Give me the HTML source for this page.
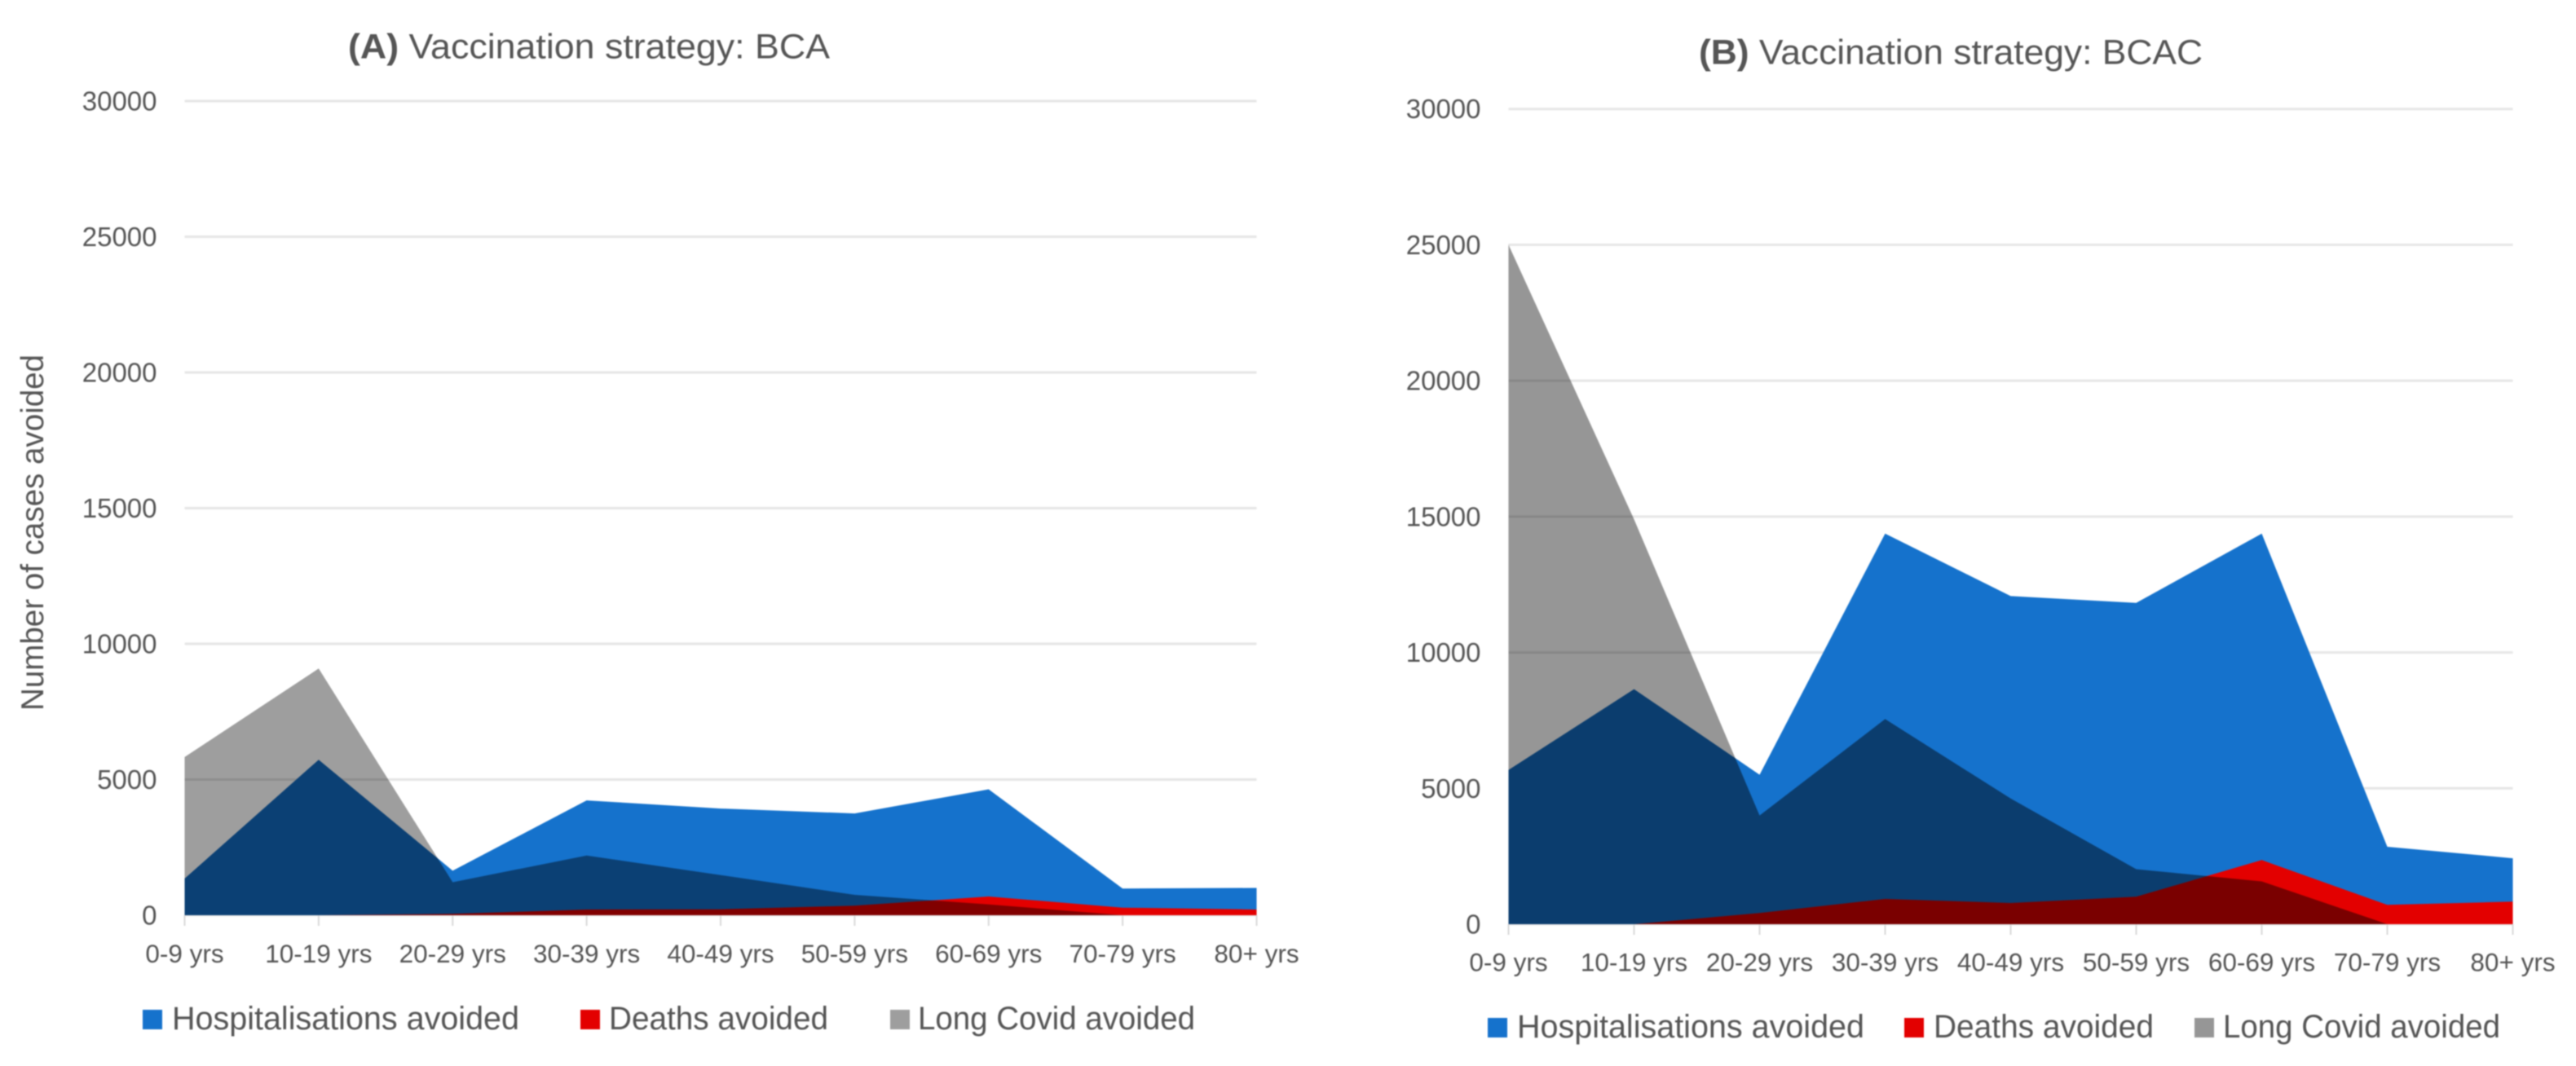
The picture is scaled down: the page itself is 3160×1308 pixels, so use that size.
<!DOCTYPE html>
<html lang="en">
<head>
<meta charset="utf-8">
<title>Cases avoided by vaccination strategy</title>
<style>
  html, body { margin: 0; padding: 0; background: #fff; }
  svg { display: block; filter: blur(0.9px); }
  text { font-family: "Liberation Sans", sans-serif; fill: #555; }
</style>
</head>
<body>
<svg id="figure" xmlns="http://www.w3.org/2000/svg" width="3160" height="1308" viewBox="0 0 3160 1308">
  <rect width="3160" height="1308" fill="#fff"/>

  <g id="panel-a"></g>
  <g id="panel-b"></g>

  <text x="427" y="71.5" font-size="43" textLength="591" lengthAdjust="spacingAndGlyphs"><tspan font-weight="bold">(A)</tspan> Vaccination strategy: BCA</text>
  <text x="2084" y="78.5" font-size="43" textLength="618" lengthAdjust="spacingAndGlyphs"><tspan font-weight="bold">(B)</tspan> Vaccination strategy: BCAC</text>

  <text transform="translate(53,872) rotate(-90)" font-size="39" textLength="437" lengthAdjust="spacingAndGlyphs">Number of cases avoided</text>

  <g>
    <rect x="175" y="1239" width="24" height="24" fill="#1572cc"/>
    <text x="211" y="1263" font-size="40" textLength="426" lengthAdjust="spacingAndGlyphs">Hospitalisations avoided</text>
    <rect x="712" y="1239" width="24" height="24" fill="#e30000"/>
    <text x="747" y="1263" font-size="40" textLength="269" lengthAdjust="spacingAndGlyphs">Deaths avoided</text>
    <rect x="1092" y="1239" width="24" height="24" fill="#9e9e9e"/>
    <text x="1126" y="1263" font-size="40" textLength="340" lengthAdjust="spacingAndGlyphs">Long Covid avoided</text>
  </g>

  <g>
    <rect x="1825" y="1249" width="24" height="24" fill="#1572cc"/>
    <text x="1861" y="1273" font-size="40" textLength="426" lengthAdjust="spacingAndGlyphs">Hospitalisations avoided</text>
    <rect x="2336" y="1249" width="24" height="24" fill="#e30000"/>
    <text x="2372" y="1273" font-size="40" textLength="270" lengthAdjust="spacingAndGlyphs">Deaths avoided</text>
    <rect x="2692" y="1249" width="24" height="24" fill="#969696"/>
    <text x="2727" y="1273" font-size="40" textLength="340" lengthAdjust="spacingAndGlyphs">Long Covid avoided</text>
  </g>
</svg>

<script>
const categories = ['0-9 yrs', '10-19 yrs', '20-29 yrs', '30-39 yrs', '40-49 yrs', '50-59 yrs', '60-69 yrs', '70-79 yrs', '80+ yrs'];
const yTicks = [0, 5000, 10000, 15000, 20000, 25000, 30000];

const hospitalisationsA = [1350, 5730, 1640, 4230, 3930, 3750, 4640, 985, 1005];
const deathsA = [0, 0, 50, 210, 220, 350, 690, 280, 210];
const longCovidA = [5830, 9090, 1215, 2200, 1480, 750, 400, 0, 0];

const hospitalisationsB = [5675, 8650, 5500, 14375, 12075, 11825, 14375, 2850, 2425];
const deathsB = [0, 0, 410, 930, 780, 1010, 2360, 710, 830];
const longCovidB = [25000, 14900, 4000, 7550, 4625, 2025, 1575, 0, 0];

const SVG_NS = 'http://www.w3.org/2000/svg';

function svgEl(tag, attrs) {
  const el = document.createElementNS(SVG_NS, tag);
  for (const key in attrs) el.setAttribute(key, attrs[key]);
  return el;
}

function makeXScale(left, right) {
  return function (i) { return left + (right - left) * i / (categories.length - 1); };
}

function makeYScale(bottom, top) {
  const max = yTicks[yTicks.length - 1];
  return function (v) { return bottom - (bottom - top) * v / max; };
}

function areaPoints(values, x, y) {
  const pts = values.map(function (v, i) { return x(i).toFixed(1) + ',' + y(v).toFixed(1); });
  pts.unshift(x(0).toFixed(1) + ',' + y(0).toFixed(1));
  pts.push(x(values.length - 1).toFixed(1) + ',' + y(0).toFixed(1));
  return pts.join(' ');
}

function drawPanel(opts) {
  const root = document.getElementById(opts.id);
  const x = makeXScale(opts.left, opts.right);
  const y = makeYScale(opts.bottom, opts.top);

  yTicks.forEach(function (tick) {
    const grid = svgEl('line', { x1: opts.left, x2: opts.right, y1: y(tick), y2: y(tick), stroke: '#e6e6e6', 'stroke-width': 3 });
    
    
    root.appendChild(grid);

    const label = svgEl('text', { x: opts.left - 34, y: y(tick) + 11.5, 'font-size': 33, 'text-anchor': 'end' });
    label.textContent = String(tick);
    
    
    root.appendChild(label);
  });

  categories.forEach(function (name, i) {
    const tick = svgEl('line', { x1: x(i), x2: x(i), y1: y(0), y2: y(0) + 13, stroke: '#d9d9d9', 'stroke-width': 2 });
    
    
    root.appendChild(tick);

    const label = svgEl('text', { x: x(i), y: opts.labelY, 'font-size': 31.5, 'text-anchor': 'middle' });
    label.textContent = name;
    
    
    root.appendChild(label);
  });

  const hosp = svgEl('polygon', { points: areaPoints(opts.hospitalisations, x, y), fill: '#1572cc' });
  
  
  root.appendChild(hosp);

  const deaths = svgEl('polygon', { points: areaPoints(opts.deaths, x, y), fill: '#e30000' });
  
  
  root.appendChild(deaths);

  const covid = svgEl('polygon', { points: areaPoints(opts.longCovid, x, y), fill: '#000', 'fill-opacity': opts.overlayAlpha });
  
  
  root.appendChild(covid);

  const clip = svgEl('clipPath', { id: opts.id + '-covid-clip' });
  clip.appendChild(svgEl('polygon', { points: areaPoints(opts.longCovid, x, y) }));
  root.appendChild(clip);

  const overlap = svgEl('polygon', { points: areaPoints(opts.hospitalisations, x, y), fill: '#000', 'fill-opacity': 0.08, 'clip-path': 'url(#' + opts.id + '-covid-clip)' });
  
  
  root.appendChild(overlap);
}

drawPanel({
  id: 'panel-a', left: 226.5, right: 1541.5, bottom: 1123, top: 124, labelY: 1181, overlayAlpha: 0.38,
  hospitalisations: hospitalisationsA, deaths: deathsA, longCovid: longCovidA
});
drawPanel({
  id: 'panel-b', left: 1850.5, right: 3082.5, bottom: 1134, top: 133.7, labelY: 1191.5, overlayAlpha: 0.41,
  hospitalisations: hospitalisationsB, deaths: deathsB, longCovid: longCovidB
});
</script>
</body>
</html>
